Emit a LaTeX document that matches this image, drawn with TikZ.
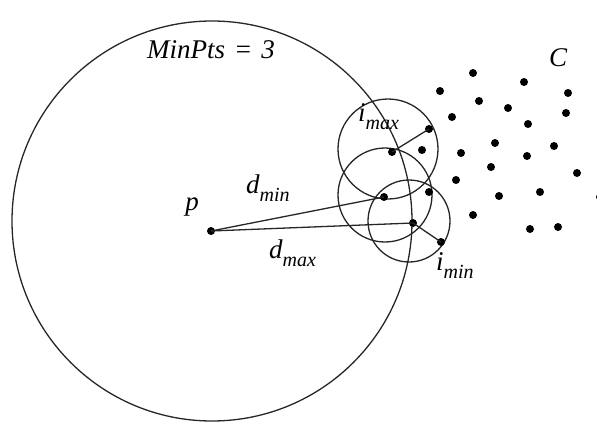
\documentclass[tikz,border=0pt]{standalone}
\usepackage{fontspec}
\setmainfont{Liberation Serif}
\begin{document}
\begin{tikzpicture}[x=1pt,y=-1pt,
  ln/.style={line width=1.3pt,black!85},
  dot/.style={circle,fill=black,inner sep=0pt,minimum size=8pt},
  lbl/.style={inner sep=0pt,font=\fontsize{27}{30}\selectfont\itshape}]
\newcommand{\subtxt}[1]{\raisebox{-0.3em}{\fontsize{20}{22}\selectfont #1}}
\useasboundingbox (0,0) rectangle (597,423);
% big circle
\coordinate (P0) at (212,221);
\draw[ln] (P0) circle[radius=200];
% small circles
\draw[ln] (388,149) circle[radius=50];
\draw[ln] (385,195) circle[radius=47];
\draw[ln] (409,221) circle[radius=41];
% key points
\node[dot] (p) at (211,231) {};
\node[dot] (c1) at (392,152) {};
\node[dot] (dmin) at (384,197) {};
\node[dot] (dmax) at (413,223) {};
\node[dot] (imax) at (429,129) {};
\node[dot] (imin) at (441,242) {};
\draw[ln] (p.center) -- (dmin.center);
\draw[ln] (p.center) -- (dmax.center);
\draw[ln] (c1.center) -- (imax.center);
\draw[ln] (dmax.center) -- (imin.center);
% cluster C points
\foreach \x/\y [count=\i] in {473/73,524/82,440/91,479/101,568/93,508/108,566/113,452/117,528/124,
  422/150,461/153,495/143,554/146,527/156,491/167,577/173,456/180,429/192,499/196,540/192,
  473/215,530/229,558/227,600/197}
  \node[dot] (q\i) at (\x,\y) {};
% labels
\node[lbl] (minpts) at (211,50) {MinPts\,\,=\,\,3};
\node[lbl] (C) at (558,58) {C};
\node[lbl] (pl) at (192,207) {p};
\node[lbl,anchor=base west] (dminl) at (246,193) {d\subtxt{min}};
\node[lbl,anchor=base west] (dmaxl) at (269,258) {d\subtxt{max}};
\node[lbl,anchor=base west] (imaxl) at (358,121) {i\subtxt{max}};
\node[lbl,anchor=base west] (iminl) at (436,270) {i\subtxt{min}};
\end{tikzpicture}
\end{document}
